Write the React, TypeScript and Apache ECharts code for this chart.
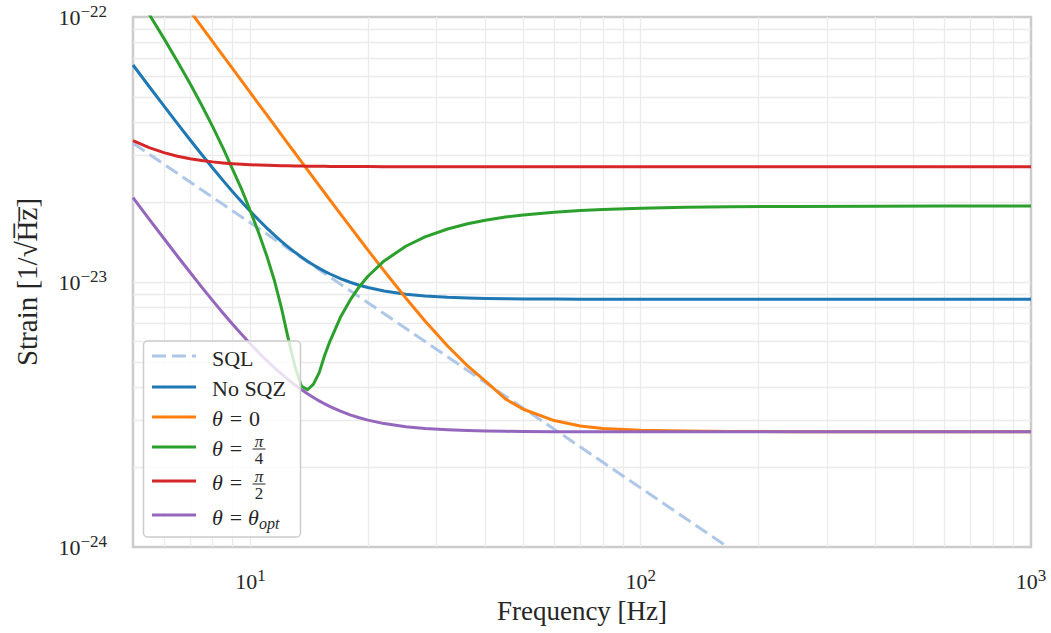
import React, { useEffect, useRef } from "react";
import * as echarts from "echarts";

// Strain values are listed in units of 1e-24 / sqrt(Hz); the y axis runs in
// the same units and its decade labels carry the 10^-24 offset.
const UNIT_EXP = -24;

const freqHz = [
  5, 5.5, 6, 6.5, 7, 7.5, 8, 8.5, 9, 9.5, 10, 10.5, 11, 11.5, 12, 12.5, 13,
  13.5, 14, 14.5, 15, 15.5, 16, 17, 18, 19, 20, 22, 25, 28, 32, 36, 40, 45, 50,
  60, 70, 80, 100, 130, 170, 250, 400, 600, 1000,
];

const sqlFreqHz = [5, 167];
const sqlStrain = [33.4, 1.0];

const noSqzStrain = [
  65.89, 54.66, 46.17, 39.6, 34.42, 30.28, 26.93, 24.18, 21.92, 20.04, 18.46,
  17.13, 16.01, 15.05, 14.24, 13.54, 12.94, 12.43, 11.98, 11.6, 11.26, 10.97,
  10.72, 10.3, 9.977, 9.726, 9.529, 9.247, 8.998, 8.858, 8.756, 8.702, 8.67,
  8.648, 8.635, 8.622, 8.616, 8.614, 8.612, 8.61, 8.61, 8.61, 8.61, 8.61, 8.61,
];

const theta0Strain = [
  206.6, 170.7, 143.5, 122.2, 105.4, 91.84, 80.75, 71.52, 63.8, 57.27, 51.71,
  46.91, 42.78, 39.14, 35.96, 33.16, 30.68, 28.46, 26.49, 24.71, 23.11, 21.67,
  20.35, 18.07, 16.17, 14.56, 13.19, 11.01, 8.7, 7.127, 5.732, 4.826, 4.223,
  3.62, 3.31, 3.0, 2.86, 2.8, 2.76, 2.74, 2.73, 2.725, 2.72, 2.72, 2.72,
];

const thetaQuarterStrain = [
  127.9, 102.4, 83.07, 67.99, 56.06, 46.43, 38.57, 32.06, 26.63, 22.3, 18.5,
  15.3, 12.6, 10.2, 8.0, 6.1, 4.8, 4.05, 3.92, 4.12, 4.55, 5.3, 6.0, 7.36, 8.54,
  9.6, 10.51, 12.01, 13.64, 14.79, 15.85, 16.58, 17.11, 17.58, 17.91, 18.35,
  18.61, 18.79, 18.99, 19.14, 19.22, 19.29, 19.33, 19.34, 19.34,
];

const thetaHalfStrain = [
  34.18, 32.14, 30.77, 29.84, 29.2, 28.73, 28.4, 28.15, 27.96, 27.82, 27.71,
  27.63, 27.56, 27.51, 27.46, 27.43, 27.4, 27.37, 27.35, 27.34, 27.32, 27.31,
  27.3, 27.29, 27.27, 27.27, 27.26, 27.25, 27.24, 27.23, 27.23, 27.23, 27.23,
  27.23, 27.23, 27.23, 27.23, 27.23, 27.23, 27.23, 27.23, 27.23, 27.23, 27.23,
  27.23,
];

const thetaOptStrain = [
  20.82, 17.27, 14.59, 12.51, 10.88, 9.567, 8.509, 7.64, 6.926, 6.332, 5.833,
  5.412, 5.058, 4.755, 4.499, 4.278, 4.088, 3.927, 3.785, 3.665, 3.558, 3.466,
  3.387, 3.254, 3.152, 3.073, 3.011, 2.922, 2.843, 2.799, 2.767, 2.749, 2.739,
  2.732, 2.728, 2.724, 2.722, 2.722, 2.72, 2.72, 2.72, 2.72, 2.72, 2.72, 2.72,
];

// Grid lines at every 1..9 x 10^k step of both log axes
const xGridHz = [
  6, 7, 8, 9, 10, 20, 30, 40, 50, 60, 70, 80, 90, 100, 200, 300, 400, 500, 600,
  700, 800, 900,
];
const yGridStrain = [
  2, 3, 4, 5, 6, 7, 8, 9, 10, 20, 30, 40, 50, 60, 70, 80, 90,
];

const FONT = '"Liberation Serif", "Times New Roman", serif';
const TEXT = "#262626";

const C_SQL = "#aec7e8";
const C_BLUE = "#1f77b4";
const C_ORANGE = "#ff7f0e";
const C_GREEN = "#2ca02c";
const C_RED = "#d62728";
const C_PURPLE = "#9467bd";

const pairs = (xs: number[], ys: number[]) => xs.map((x, i) => [x, ys[i]]);

const decadeLabel = (offset: number) => (v: number) => {
  const e = Math.log10(v);
  const r = Math.round(e);
  if (!isFinite(e) || Math.abs(e - r) > 1e-6) return "";
  return `{b|10}{s|${String(r + offset).replace("-", "\u2212")}}`;
};

const labelRich = {
  b: { fontFamily: FONT, fontSize: 22, color: TEXT, lineHeight: 28 },
  s: {
    fontFamily: FONT,
    fontSize: 17,
    color: TEXT,
    lineHeight: 17,
    verticalAlign: "top",
  },
};

const lineSeries = (
  name: string,
  data: number[][],
  color: string,
  z: number,
  dashed = false
) => ({
  name,
  type: "line",
  data,
  z,
  showSymbol: false,
  symbol: "none",
  smooth: false,
  clip: true,
  silent: true,
  lineStyle: {
    color,
    width: 3,
    type: dashed ? [14, 6] : "solid",
    cap: "butt",
    join: "round",
  },
  itemStyle: { color },
});

const txt = (
  text: string,
  x: number,
  y: number,
  size: number,
  opts: { italic?: boolean; align?: string } = {}
) => ({
  type: "text",
  z: 101,
  silent: true,
  style: {
    text,
    x,
    y,
    fill: TEXT,
    font: `${opts.italic ? "italic " : ""}${size}px ${FONT}`,
    align: opts.align || "left",
    textAlign: opts.align || "left",
    verticalAlign: "middle",
    textVerticalAlign: "middle",
  },
});

const legendLine = (y: number, color: string, dashed = false) => ({
  type: "line",
  z: 101,
  silent: true,
  shape: { x1: 152, y1: y, x2: 196, y2: y },
  style: {
    stroke: color,
    lineWidth: 3,
    lineDash: dashed ? [14, 6] : null,
  },
});

const fraction = (num: string, den: string, cx: number, yBar: number) => [
  txt(num, cx, yBar - 8, 17, { italic: true, align: "center" }),
  {
    type: "line",
    z: 101,
    silent: true,
    shape: { x1: cx - 6.5, y1: yBar, x2: cx + 6.5, y2: yBar },
    style: { stroke: TEXT, lineWidth: 1 },
  },
  txt(den, cx, yBar + 9, 17, { align: "center" }),
];

const LEG = 22;

const legendGraphic = [
  {
    type: "rect",
    z: 100,
    silent: true,
    shape: { x: 143.5, y: 341, width: 157, height: 196, r: 4 },
    style: {
      fill: "rgba(255,255,255,0.8)",
      stroke: "#cccccc",
      lineWidth: 1.5,
    },
  },
  legendLine(356, C_SQL, true),
  txt("SQL", 212, 358, LEG),
  legendLine(387, C_BLUE),
  txt("No SQZ", 212, 388, LEG),
  legendLine(417, C_ORANGE),
  txt("\u03b8", 212, 418, LEG, { italic: true }),
  txt("=", 236, 418, LEG, { align: "center" }),
  txt("0", 249, 418, LEG),
  legendLine(447, C_GREEN),
  txt("\u03b8", 212, 448, LEG, { italic: true }),
  txt("=", 236, 448, LEG, { align: "center" }),
  ...fraction("\u03c0", "4", 259, 449),
  legendLine(481, C_RED),
  txt("\u03b8", 212, 482, LEG, { italic: true }),
  txt("=", 236, 482, LEG, { align: "center" }),
  ...fraction("\u03c0", "2", 259, 484),
  legendLine(515, C_PURPLE),
  txt("\u03b8", 212, 517, LEG, { italic: true }),
  txt("=", 236, 517, LEG, { align: "center" }),
  txt("\u03b8", 248, 517, LEG, { italic: true }),
  txt("opt", 259, 523, 16, { italic: true }),
];

export default function App() {
  const ref = useRef<HTMLDivElement>(null);

  useEffect(() => {
    document.body.style.margin = "0";
    if (!ref.current) return;
    const chart = echarts.init(ref.current, undefined, { renderer: "svg" });

    const option = {
      animation: false,
      backgroundColor: "#ffffff",
      grid: {
        left: 133,
        top: 17,
        right: 20,
        bottom: 86,
        show: true,
        borderColor: "#cccccc",
        borderWidth: 2.5,
        backgroundColor: "transparent",
        outerBoundsMode: "none",
      },
      xAxis: {
        type: "log",
        logBase: 10,
        min: 5,
        max: 1000,
        name: "Frequency [Hz]",
        nameLocation: "middle",
        nameGap: 50,
        nameTextStyle: { fontFamily: FONT, fontSize: 27, color: TEXT },
        axisLine: { show: false },
        axisTick: { show: false },
        minorTick: { show: false },
        splitLine: { show: false },
        axisLabel: {
          margin: 20,
          showMinLabel: true,
          showMaxLabel: true,
          formatter: decadeLabel(0),
          rich: labelRich,
        },
      },
      yAxis: {
        type: "log",
        logBase: 10,
        min: 1,
        max: 100,
        name: "Strain [1/\u221aH\u0305z\u0305]",
        nameLocation: "middle",
        nameGap: 92,
        nameRotate: 90,
        nameTextStyle: { fontFamily: FONT, fontSize: 29, color: TEXT },
        axisLine: { show: false },
        axisTick: { show: false },
        minorTick: { show: false },
        splitLine: { show: false },
        axisLabel: {
          margin: 26,
          showMinLabel: true,
          showMaxLabel: true,
          formatter: decadeLabel(UNIT_EXP),
          rich: labelRich,
        },
      },
      series: [
        {
          name: "grid",
          type: "line",
          z: 1,
          silent: true,
          data: [[5, 1]],
          showSymbol: false,
          lineStyle: { opacity: 0 },
          markLine: {
            z: 1,
            silent: true,
            animation: false,
            symbol: ["none", "none"],
            label: { show: false },
            lineStyle: { color: "#ebebeb", width: 1.3, type: "solid" },
            emphasis: { disabled: true },
            data: [
              ...xGridHz.map((v) => ({ xAxis: v })),
              ...yGridStrain.map((v) => ({ yAxis: v })),
            ],
          },
        },
        lineSeries("SQL", pairs(sqlFreqHz, sqlStrain), C_SQL, 2, true),
        lineSeries("No SQZ", pairs(freqHz, noSqzStrain), C_BLUE, 3),
        lineSeries("\u03b8 = 0", pairs(freqHz, theta0Strain), C_ORANGE, 4),
        lineSeries("\u03b8 = \u03c0/4", pairs(freqHz, thetaQuarterStrain), C_GREEN, 5),
        lineSeries("\u03b8 = \u03c0/2", pairs(freqHz, thetaHalfStrain), C_RED, 6),
        lineSeries("\u03b8 = \u03b8opt", pairs(freqHz, thetaOptStrain), C_PURPLE, 7),
      ],
      graphic: legendGraphic,
    };

    chart.setOption(option as any);
    return () => chart.dispose();
  }, []);

  return (
    <div
      ref={ref}
      style={{ position: "fixed", left: 0, top: 0, width: 1051, height: 633 }}
    />
  );
}
